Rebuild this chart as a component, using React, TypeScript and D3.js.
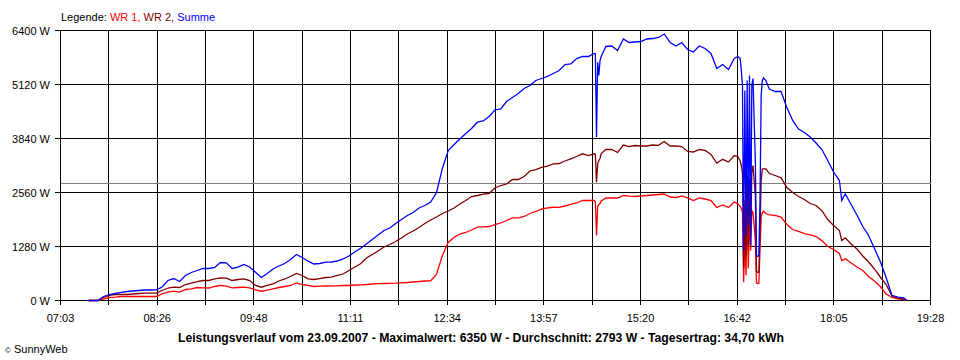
import React from "react";
import * as d3 from "d3";

// ---- data ----
const times: string[] = [
  "07:27","07:35","07:40","07:45","07:50","07:55",
  "08:00","08:05","08:10","08:15","08:20","08:25","08:30","08:35","08:40","08:45","08:50","08:55",
  "09:00","09:05","09:10","09:15","09:20","09:25","09:30","09:35","09:40","09:45","09:50","09:55",
  "10:00","10:05","10:10","10:15","10:20","10:25","10:30","10:35","10:40","10:45","10:50","10:55",
  "11:00","11:05","11:10","11:15","11:20","11:25","11:30","11:35","11:40","11:45","11:50","11:55",
  "12:00","12:05","12:10","12:15","12:20","12:25","12:30","12:35","12:40","12:45","12:50","12:55",
  "13:00","13:05","13:10","13:15","13:20","13:25","13:30","13:35","13:40","13:45","13:50","13:55",
  "14:00","14:05","14:10","14:15","14:20","14:25","14:30","14:35","14:40","14:41","14:42","14:43","14:44","14:45","14:46","14:50","14:55",
  "15:00","15:05","15:10","15:15","15:20","15:25","15:30","15:35","15:40","15:45","15:50","15:55",
  "16:00","16:05","16:10","16:15","16:20","16:25","16:30","16:35","16:40","16:43","16:45","16:46","16:47","16:48","16:49","16:50","16:51","16:52","16:53","16:54","16:55","16:56","16:57","16:58","16:59",
  "17:00","17:01","17:02","17:03","17:04","17:05","17:07","17:10","17:15","17:20","17:25","17:30","17:35","17:40","17:45","17:50","17:55",
  "18:00","18:05","18:10","18:12","18:15","18:20","18:25","18:30","18:35","18:40","18:45","18:50","18:55",
  "19:00","19:05","19:08",
];

const wr1: number[] = [
  0,0,40,71,78,95,
  95,95,95,95,95,95,159,201,220,201,261,277,
  308,301,296,332,356,339,301,308,315,301,254,220,
  244,277,308,332,356,415,379,356,332,339,344,348,
  348,356,356,367,372,379,391,398,403,408,410,420,
  427,439,450,462,467,616,1067,1375,1500,1576,1612,1671,
  1737,1747,1754,1801,1837,1896,1960,1960,1991,2062,2110,2169,
  2193,2212,2209,2240,2276,2311,2370,2370,2370,2347,1541,2228,2276,2299,2359,2430,2430,
  2430,2489,2472,2465,2477,2489,2501,2513,2524,2453,2441,2477,
  2434,2370,2434,2406,2370,2204,2264,2204,2335,2292,2228,2181,2093,434,1659,593,2062,759,2086,1185,2133,2086,1778,1422,415,
  403,410,1185,1975,2086,2117,2062,2027,2015,1975,1801,1683,1636,1588,1553,1517,1420,
  1280,1209,1114,948,988,889,794,711,569,462,332,154,71,
  36,24,0,
];

const wr2: number[] = [
  0,0,78,119,142,142,
  142,154,166,173,173,173,237,296,315,308,379,410,
  450,474,474,510,538,529,474,498,514,474,356,315,
  356,396,462,510,569,640,593,514,498,521,545,552,
  593,628,711,794,870,1007,1090,1173,1268,1327,1399,1481,
  1576,1647,1730,1825,1908,1979,2062,2121,2193,2287,2370,2465,
  2489,2520,2536,2667,2726,2761,2868,2868,2939,3070,3105,3153,
  3188,3240,3247,3307,3359,3413,3477,3437,3477,3461,2804,3240,3319,3366,3484,3579,3579,
  3508,3686,3650,3674,3662,3662,3686,3679,3769,3662,3662,3650,
  3532,3520,3579,3556,3461,3259,3347,3283,3437,3413,3307,3200,3010,759,2370,1067,2963,1304,2892,1541,3010,3200,2844,2489,687,
  664,676,1659,2844,3122,3122,3122,3010,2963,2908,2679,2560,2465,2394,2299,2252,2130,
  1920,1778,1659,1422,1486,1339,1221,1055,913,747,557,379,107,
  59,36,0,
];

const summe: number[] = [
  0,0,95,142,166,190,
  213,225,237,249,249,254,320,474,521,450,593,664,
  711,759,759,782,901,894,759,789,853,794,671,545,
  640,747,818,877,972,1090,1019,932,865,877,908,913,
  936,984,1055,1150,1240,1339,1446,1553,1659,1719,1825,1920,
  2015,2086,2193,2252,2335,2560,3129,3556,3698,3828,3959,4077,
  4226,4255,4361,4516,4539,4717,4812,4907,5025,5096,5215,5262,
  5310,5381,5452,5594,5611,5736,5784,5784,5855,5843,3871,5649,5333,5689,5784,6021,6033,
  5926,6199,6116,6127,6139,6199,6210,6234,6317,6116,6033,6116,
  5950,5890,6033,5973,5855,5499,5594,5476,5736,5784,5736,5452,5096,1185,4978,1541,5215,1778,5333,1304,5096,5262,4267,3319,1067,
  1043,1067,2370,4859,5215,5274,5215,5013,4954,4954,4575,4267,4065,3982,3876,3733,3579,
  3319,3046,2844,2370,2529,2276,2027,1754,1541,1233,924,545,119,
  78,64,0,
];

const xTickLabels: string[] = ["07:03","08:26","09:48","11:11","12:34","13:57","15:20","16:42","18:05","19:28"];
const yTicks: number[] = [0, 1280, 2560, 3840, 5120, 6400];
const average = 2793;
const title = "Leistungsverlauf vom 23.09.2007 - Maximalwert: 6350 W - Durchschnitt: 2793 W - Tagesertrag: 34,70 kWh";

const COL_WR1 = "#ff0000";
const COL_WR2 = "#800000";
const COL_SUM = "#0000ff";

const parse = (s: string) => {
  const [h, m] = s.split(":").map(Number);
  return h * 60 + m;
};

export default function App() {
  const W = 960, H = 360;
  const t0 = parse(xTickLabels[0]);
  const t1 = parse(xTickLabels[xTickLabels.length - 1]);
  const x = d3.scaleLinear().domain([t0, t1]).range([60.5, 930.5]);
  const y = d3.scaleLinear().domain([0, 6400]).range([300.5, 30.5]);

  const gridT = d3.range(19).map((k) => t0 + (k * (t1 - t0)) / 18);
  const n = Math.min(times.length, wr1.length, wr2.length, summe.length);
  const tnum = times.slice(0, n).map(parse);

  const mk = (vals: number[]) =>
    d3
      .line<number>()
      .x((_, i) => x(tnum[i]))
      .y((v) => y(v))(vals.slice(0, n)) || "";

  const font = "'Liberation Sans', Arial, sans-serif";

  return (
    <svg
      width={W}
      height={H}
      style={{ position: "absolute", left: 0, top: 0, background: "#fff" }}
      fontFamily={font}
    >
      <rect x={0} y={0} width={W} height={H} fill="#fff" />
      {/* legend */}
      <text x={61} y={21} fontSize={11}>
        <tspan fill="#000">Legende: </tspan>
        <tspan fill={COL_WR1}>WR 1, </tspan>
        <tspan fill={COL_WR2}>WR 2, </tspan>
        <tspan fill={COL_SUM}>Summe</tspan>
      </text>
      {/* grid */}
      <g shapeRendering="crispEdges" stroke="#000" strokeWidth={1}>
        {yTicks.map((v) => (
          <line key={"h" + v} x1={55} x2={930.5} y1={y(v)} y2={y(v)} />
        ))}
        {gridT.map((t, k) => (
          <line key={"v" + k} x1={x(t)} x2={x(t)} y1={30.5} y2={305} />
        ))}
      </g>
      <line
        x1={60.5}
        x2={930.5}
        y1={Math.round(y(average)) + 0.5}
        y2={Math.round(y(average)) + 0.5}
        stroke="#808080"
        strokeWidth={1}
        shapeRendering="crispEdges"
      />
      {/* y labels */}
      {yTicks.map((v) => (
        <text key={"yl" + v} x={50} y={y(v) + 4} fontSize={11} textAnchor="end" fill="#000">
          {v + " W"}
        </text>
      ))}
      {/* x labels */}
      {xTickLabels.map((lab, i) => (
        <text key={"xl" + i} x={x(gridT[i * 2])} y={322} fontSize={11} textAnchor="middle" fill="#000">
          {lab}
        </text>
      ))}
      {/* series */}
      <g fill="none" strokeWidth={1.3} strokeLinejoin="miter">
        <path d={mk(wr1)} stroke={COL_WR1} />
        <path d={mk(wr2)} stroke={COL_WR2} />
        <path d={mk(summe)} stroke={COL_SUM} />
      </g>
      {/* title */}
      <text x={481} y={342} fontSize={12.2} fontWeight="bold" textAnchor="middle" fill="#000">
        {title}
      </text>
      <text x={5} y={353} fontSize={11} fill="#000">
        <tspan fontSize={8}>©</tspan> SunnyWeb
      </text>
    </svg>
  );
}
